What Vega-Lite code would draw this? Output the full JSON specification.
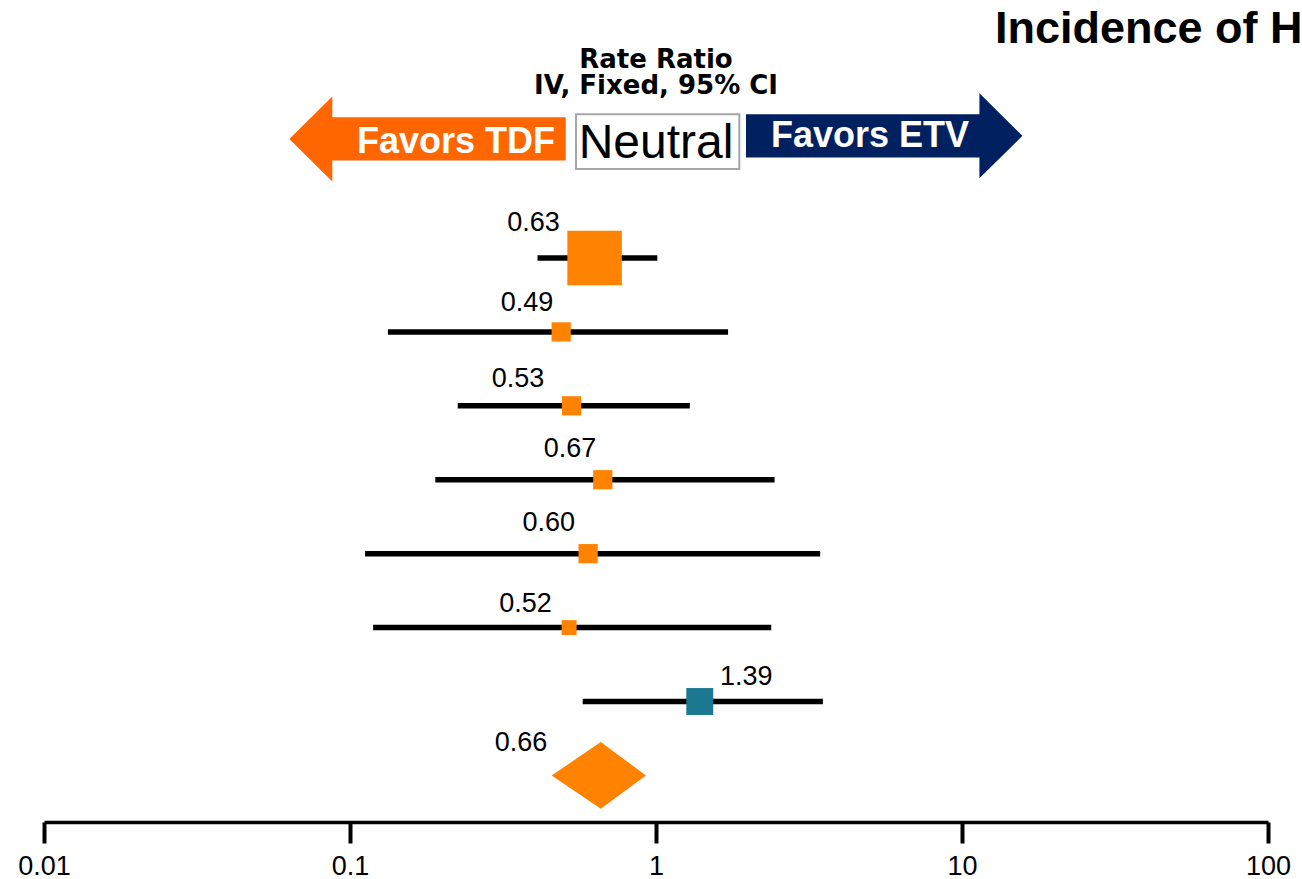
{
  "$schema": "https://vega.github.io/schema/vega-lite/v6.json",
  "width": 1224,
  "height": 822,
  "autosize": {"type": "none"},
  "padding": {"left": 44, "top": 0, "right": 34, "bottom": 57},
  "background": "white",
  "title": {
    "text": "Incidence of HCC",
    "anchor": "start",
    "frame": "group",
    "font": "Liberation Sans",
    "fontSize": 45,
    "fontWeight": "bold",
    "color": "black",
    "baseline": "alphabetic",
    "offset": -46,
    "dx": 951,
    "dy": 42
  },
  "config": {"view": {"stroke": null}, "font": "Liberation Sans"},
  "datasets": {
    "studies": [
      {"row": 1, "est": 0.63, "lo": 0.41, "hi": 1.01, "weight": 55.05, "favors": "TDF", "label": "0.63", "lx": 0.398, "ly": 0.63},
      {"row": 2, "est": 0.49, "lo": 0.133, "hi": 1.72, "weight": 6.84, "favors": "TDF", "label": "0.49", "lx": 0.379, "ly": 1.7125},
      {"row": 3, "est": 0.53, "lo": 0.225, "hi": 1.29, "weight": 6.84, "favors": "TDF", "label": "0.53", "lx": 0.354, "ly": 2.741},
      {"row": 4, "est": 0.67, "lo": 0.19, "hi": 2.44, "weight": 6.84, "favors": "TDF", "label": "0.67", "lx": 0.5236, "ly": 3.688},
      {"row": 5, "est": 0.60, "lo": 0.112, "hi": 3.44, "weight": 6.84, "favors": "TDF", "label": "0.60", "lx": 0.446, "ly": 4.689},
      {"row": 6, "est": 0.52, "lo": 0.119, "hi": 2.38, "weight": 4.15, "favors": "TDF", "label": "0.52", "lx": 0.3747, "ly": 5.785},
      {"row": 7, "est": 1.39, "lo": 0.576, "hi": 3.51, "weight": 13.44, "favors": "ETV", "label": "1.39", "lx": 1.973, "ly": 6.777}
    ],
    "pooled": [
      {"x": 0.456, "top": 8, "bottom": 8},
      {"x": 0.66, "top": 7.549, "bottom": 8.451},
      {"x": 0.927, "top": 8, "bottom": 8}
    ],
    "pooledLabel": [
      {"label": "0.66", "lx": 0.362, "ly": 7.6645}
    ],
    "arrows": [
      {"dir": "left", "x": 0.1792, "y": -0.611, "text": "Favors TDF", "tx": 0.222, "ty": -0.4175},
      {"dir": "right", "x": 5.569, "y": -0.652, "text": "Favors ETV", "tx": 5.005, "ty": -0.507}
    ],
    "neutral": [
      {"x": 0.5478, "x2": 1.872, "y": -0.945, "y2": -0.205, "text": "Neutral", "tx": 1.0, "ty": -0.358}
    ],
    "header": [
      {"text": "Rate Ratio", "x": 1, "y": -1.576},
      {"text": "IV, Fixed, 95% CI", "x": 1, "y": -1.216}
    ]
  },
  "layer": [
    {
      "mark": {"type": "rule", "color": "#9A8F5C", "strokeWidth": 4},
      "encoding": {
        "x": {
          "datum": 1,
          "type": "quantitative",
          "scale": {"type": "log", "domain": [0.01, 100], "nice": false},
          "axis": {
            "values": [0.01, 0.1, 1, 10, 100],
            "format": "~g",
            "title": null,
            "grid": false,
            "labelFont": "Liberation Sans",
            "labelFontSize": 27,
            "labelColor": "black",
            "labelPadding": 10,
            "labelFlush": false,
            "labelOverlap": false,
            "tickSize": 21,
            "tickWidth": 4,
            "tickColor": "black",
            "domainColor": "black",
            "domainWidth": 3.7
          }
        },
        "y": {
          "datum": 0,
          "type": "quantitative",
          "scale": {"domain": [-2.49, 8.63], "reverse": true, "nice": false, "zero": false},
          "axis": null
        },
        "y2": {"datum": 8.63}
      }
    },
    {
      "data": {"name": "studies"},
      "mark": {"type": "rule", "color": "black", "strokeWidth": 5.5},
      "encoding": {
        "x": {"field": "lo", "type": "quantitative", "title": null},
        "x2": {"field": "hi"},
        "y": {"field": "row", "type": "quantitative", "axis": null}
      }
    },
    {
      "data": {"name": "studies"},
      "mark": {"type": "point", "shape": "square", "filled": true, "opacity": 1, "strokeWidth": 0},
      "encoding": {
        "x": {"field": "est", "type": "quantitative", "title": null},
        "y": {"field": "row", "type": "quantitative", "axis": null},
        "size": {"field": "weight", "type": "quantitative", "scale": {"type": "linear", "domain": [0, 100], "range": [0, 5395], "zero": true}, "legend": null},
        "color": {"field": "favors", "type": "nominal", "scale": {"domain": ["TDF", "ETV"], "range": ["#FF8200", "#1B7890"]}, "legend": null}
      }
    },
    {
      "data": {"name": "pooled"},
      "mark": {"type": "area", "orient": "vertical", "color": "#FF8200", "opacity": 1},
      "encoding": {
        "x": {"field": "x", "type": "quantitative", "title": null},
        "y": {"field": "top", "type": "quantitative", "axis": null},
        "y2": {"field": "bottom"}
      }
    },
    {
      "data": {"name": "studies"},
      "mark": {"type": "text", "fontSize": 27, "color": "black", "align": "center", "baseline": "alphabetic", "font": "Liberation Sans"},
      "encoding": {
        "x": {"field": "lx", "type": "quantitative", "title": null},
        "y": {"field": "ly", "type": "quantitative", "axis": null},
        "text": {"field": "label"}
      }
    },
    {
      "data": {"name": "pooledLabel"},
      "mark": {"type": "text", "fontSize": 27, "color": "black", "align": "center", "baseline": "alphabetic", "font": "Liberation Sans"},
      "encoding": {
        "x": {"field": "lx", "type": "quantitative", "title": null},
        "y": {"field": "ly", "type": "quantitative", "axis": null},
        "text": {"field": "label"}
      }
    },
    {
      "data": {"name": "arrows"},
      "mark": {"type": "point", "filled": true, "opacity": 1, "strokeWidth": 0, "size": 76397},
      "encoding": {
        "x": {"field": "x", "type": "quantitative", "title": null},
        "y": {"field": "y", "type": "quantitative", "axis": null},
        "shape": {
          "field": "dir",
          "type": "nominal",
          "scale": {
            "domain": ["left", "right"],
            "range": [
              "M-1,0L-0.689,-0.3075L-0.689,-0.156L1,-0.156L1,0.156L-0.689,0.156L-0.689,0.3075Z",
              "M1,0L0.689,-0.3075L0.689,-0.156L-1,-0.156L-1,0.156L0.689,0.156L0.689,0.3075Z"
            ]
          },
          "legend": null
        },
        "fill": {"field": "dir", "type": "nominal", "scale": {"domain": ["left", "right"], "range": ["#FF6600", "#002060"]}, "legend": null}
      }
    },
    {
      "data": {"name": "arrows"},
      "mark": {"type": "text", "fontSize": 36, "fontWeight": "bold", "color": "white", "align": "center", "baseline": "alphabetic", "font": "Liberation Sans"},
      "encoding": {
        "x": {"field": "tx", "type": "quantitative", "title": null},
        "y": {"field": "ty", "type": "quantitative", "axis": null},
        "text": {"field": "text"}
      }
    },
    {
      "data": {"name": "neutral"},
      "mark": {"type": "rect", "fill": "white", "stroke": "#A6A6A6", "strokeWidth": 2},
      "encoding": {
        "x": {"field": "x", "type": "quantitative", "title": null},
        "x2": {"field": "x2"},
        "y": {"field": "y", "type": "quantitative", "axis": null},
        "y2": {"field": "y2"}
      }
    },
    {
      "data": {"name": "neutral"},
      "mark": {"type": "text", "fontSize": 48, "color": "black", "align": "center", "baseline": "alphabetic", "font": "Liberation Sans"},
      "encoding": {
        "x": {"field": "tx", "type": "quantitative", "title": null},
        "y": {"field": "ty", "type": "quantitative", "axis": null},
        "text": {"field": "text"}
      }
    },
    {
      "data": {"name": "header"},
      "mark": {"type": "text", "fontSize": 26, "fontWeight": "bold", "color": "black", "align": "center", "baseline": "alphabetic", "font": "DejaVu Sans"},
      "encoding": {
        "x": {"field": "x", "type": "quantitative", "title": null},
        "y": {"field": "y", "type": "quantitative", "axis": null},
        "text": {"field": "text"}
      }
    }
  ]
}
